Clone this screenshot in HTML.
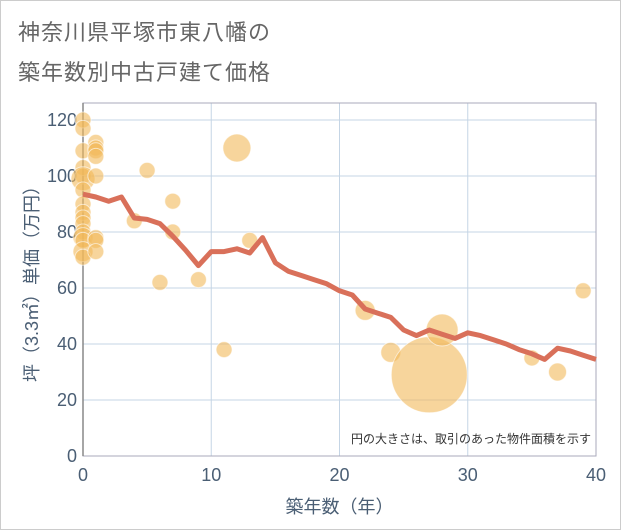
<!DOCTYPE html>
<html><head><meta charset="utf-8"><style>
body{margin:0;background:#fff;}
#wrap{position:relative;width:619px;height:528px;border:1px solid #ccc;background:#fff;font-family:"Liberation Sans","Noto Sans CJK JP",sans-serif;}
.title{position:absolute;left:17px;font-size:22px;color:#666;letter-spacing:1px;}
</style></head><body>
<div id="wrap">
<div class="title" style="top:14px">神奈川県平塚市東八幡の</div>
<div class="title" style="top:54px">築年数別中古戸建て価格</div>
<svg id="chart" width="621" height="530" style="position:absolute;left:-1px;top:-1px"></svg>
</div>
<script>
const xTicks=[0,10,20,30,40];
const yTicks=[0,20,40,60,80,100,120];
const bubbleAge=[0,0,0,0,0,0,0,0,0,0,0,0,0,0,0,0,1,1,1,1,1,1,1,1,4,5,6,7,7,9,11,12,13,22,24,27,28,35,37,39];
const bubblePrice=[120,117,109,103,100,99,95,90,87,85,83,80,78,77,73,71,112,110,109,107,100,78,77,73,84,102,62,91,80,63,38,110,77,52,37,29,45,35,30,59];
const bubbleSize=[8,8,8,8,8,12,8,8,8,8,8,8,10,8,10,8,8,8,8,8,8,8,8,8,8,8,8,8,8,8,8,14,8,10,10,38,16,8,9,8];
const lineAge=[0,1,2,3,4,5,6,7,8,9,10,11,12,13,14,15,16,17,18,19,20,21,22,23,24,25,26,27,28,29,30,31,32,33,34,35,36,37,38,39,40];
const linePrice=[93.5,92.5,91,92.5,85,84.5,83,78.5,73.5,68,73,73,74,72.5,78,69,66,64.5,63,61.5,59,57.5,52.5,51,49.5,45,43,45,43.5,42,44,43,41.5,40,38,36.5,34.5,38.5,37.5,36,34.5];
const X0=83,X1=596,Y0=456,Ytop=103;
const xs=v=>X0+(X1-X0)*v/40;
const ys=v=>Y0-(Y0-120)*v/120;
const svg=document.getElementById('chart');
const NS='http://www.w3.org/2000/svg';
function mk(t,a){const e=document.createElementNS(NS,t);for(const k in a)e.setAttribute(k,a[k]);svg.appendChild(e);return e;}
xTicks.forEach(t=>{if(t>0&&t<40){const l=mk('line',{x1:xs(t),x2:xs(t),y1:Ytop,y2:Y0,stroke:'#c5d5e5','stroke-width':1});

}
const tx=mk('text',{x:xs(t),y:Y0+25,'text-anchor':'middle','font-size':18,fill:'#4a5e74','font-family':'Liberation Sans, sans-serif'});tx.textContent=t;

});
yTicks.forEach(t=>{if(t>0){const l=mk('line',{x1:X0,x2:X1,y1:ys(t),y2:ys(t),stroke:'#c5d5e5','stroke-width':1});

}
const tx=mk('text',{x:X0-6,y:ys(t)+6,'text-anchor':'end','font-size':18,fill:'#4a5e74','font-family':'Liberation Sans, sans-serif'});tx.textContent=t;

});
const fr=mk('rect',{x:X0,y:Ytop,width:X1-X0,height:Y0-Ytop,fill:'none',stroke:'#aab','stroke-width':1});


const ax=mk('line',{x1:X0,x2:X0,y1:Ytop,y2:Y0,stroke:'#888','stroke-width':1.5});


bubbleAge.forEach((a,i)=>{const c=mk('circle',{cx:xs(a),cy:ys(bubblePrice[i]),r:bubbleSize[i],fill:'rgba(242,185,90,0.6)',stroke:'rgba(255,255,255,0.6)','stroke-width':1});

});
const pl=mk('polyline',{points:lineAge.map((a,i)=>xs(a)+','+ys(linePrice[i])).join(' '),fill:'none',stroke:'#d9705a','stroke-width':5,'stroke-linejoin':'round'});


const note=mk('text',{x:591,y:443,'text-anchor':'end','font-size':12,fill:'#333','font-family':'Liberation Sans, Noto Sans CJK JP, sans-serif'});note.textContent='円の大きさは、取引のあった物件面積を示す';


const xt=mk('text',{x:(X0+X1)/2,y:513,'text-anchor':'middle','font-size':18,fill:'#4a5e74','font-family':'Liberation Sans, Noto Sans CJK JP, sans-serif'});xt.textContent='築年数（年）';


const yt=mk('text',{x:0,y:0,'text-anchor':'middle','font-size':18,fill:'#4a5e74',transform:'translate(38,'+((Ytop+Y0)/2)+') rotate(-90)','font-family':'Liberation Sans, Noto Sans CJK JP, sans-serif'});yt.textContent='坪（3.3㎡）単価（万円）';


</script>
</body></html>
